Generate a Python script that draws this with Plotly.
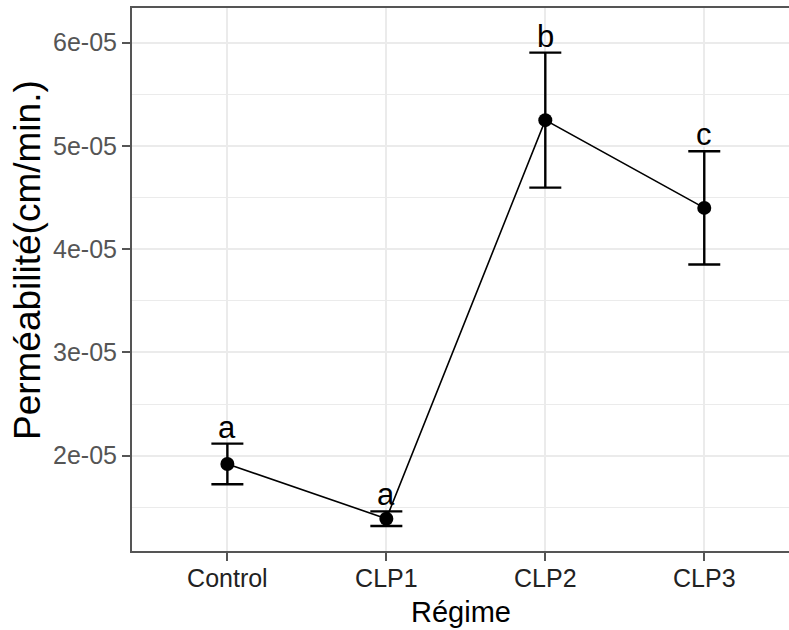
import plotly.graph_objects as go

regimes = ["Control", "CLP1", "CLP2", "CLP3"]
means = [1.92e-05, 1.39e-05, 5.25e-05, 4.40e-05]
ses = [0.197e-05, 0.071e-05, 0.654e-05, 0.548e-05]
letters = ["a", "a", "b", "c"]
ytick_vals = [2e-05, 3e-05, 4e-05, 5e-05, 6e-05]
ytick_text = ["2e-05", "3e-05", "4e-05", "5e-05", "6e-05"]
yminor_vals = [1.5e-05, 2.5e-05, 3.5e-05, 4.5e-05, 5.5e-05]

FONT = "Liberation Sans, Arial, sans-serif"
BORDER = "#555555"
GRID = "#ebebeb"

fig = go.Figure()
fig.add_trace(go.Scatter(
    x=list(range(len(regimes))), y=means,
    mode="lines+markers",
    line=dict(color="black", width=1.6),
    marker=dict(color="black", size=14),
    error_y=dict(type="data", array=ses, visible=True, color="black",
                 thickness=2.4, width=16),
    showlegend=False, hoverinfo="skip",
))

for i, (m, s, l) in enumerate(zip(means, ses, letters)):
    fig.add_annotation(x=i, y=m + s, xref="x", yref="y", text=l,
                       showarrow=False, yanchor="bottom", yshift=-3,
                       font=dict(family=FONT, size=31, color="black"))

fig.add_annotation(x=-0.159, y=0.535, xref="paper", yref="paper",
                   text="Perméabilité(cm/min.)", textangle=-90,
                   showarrow=False, xanchor="center", yanchor="middle",
                   font=dict(family=FONT, size=37, color="black"))
fig.add_annotation(x=0.5, y=-0.112, xref="paper", yref="paper",
                   text="Régime", showarrow=False,
                   xanchor="center", yanchor="middle",
                   font=dict(family=FONT, size=29, color="black"))

fig.update_layout(
    width=789, height=630,
    margin=dict(l=132, r=0, t=8, b=79),
    paper_bgcolor="white", plot_bgcolor="white",
    font=dict(family=FONT),
    xaxis=dict(
        range=[-0.6, 3.533],
        tickvals=list(range(len(regimes))), ticktext=regimes,
        showline=True, linecolor=BORDER, linewidth=2, mirror=True,
        ticks="outside", ticklen=8, tickwidth=2, tickcolor=BORDER,
        ticklabelstandoff=-4,
        tickfont=dict(family=FONT, size=25, color="#222222"),
        showgrid=True, gridcolor=GRID, gridwidth=1.6,
        zeroline=False, fixedrange=True,
    ),
    yaxis=dict(
        range=[1.077e-05, 6.336e-05],
        tickvals=ytick_vals, ticktext=ytick_text,
        showline=True, linecolor=BORDER, linewidth=2, mirror=False,
        ticks="outside", ticklen=8, tickwidth=2, tickcolor=BORDER,
        tickfont=dict(family=FONT, size=25, color="#555555"),
        showgrid=True, gridcolor=GRID, gridwidth=1.6,
        minor=dict(tickvals=yminor_vals, showgrid=True, gridcolor=GRID,
                   gridwidth=1, ticks=""),
        zeroline=False, fixedrange=True,
    ),
)

fig.write_html("out.html")
